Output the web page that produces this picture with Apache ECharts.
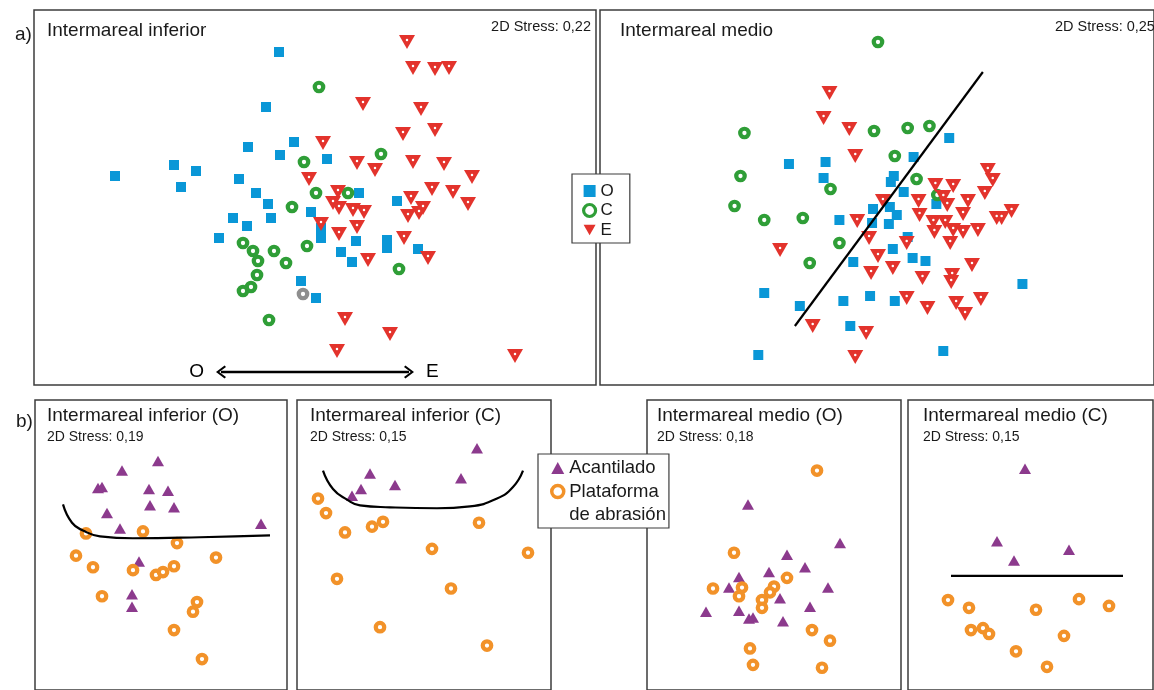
<!DOCTYPE html>
<html>
<head>
<meta charset="utf-8">
<title>NMDS intermareal</title>
<script src="https://cdn.jsdelivr.net/npm/echarts@6/dist/echarts.min.js"></script>
<style>
html, body {margin: 0; padding: 0; background: #fff;}
#main {width: 1154px; height: 690px;}
</style>
</head>
<body>
<div id="main"></div>
<script>
// a) Intermareal inferior (O / C / E)
var infO = [[245,42],[232,97],[260,132],[214,137],[246,145],[293,149],[140,155],[162,161],[81,166],[147,177],[205,169],[222,183],[325,183],[363,191],[234,194],[199,208],[237,208],[213,216],[277,202],[287,218],[287,228],[185,228],[322,231],[307,242],[318,252],[353,230],[353,238],[384,239],[267,271],[282,288]];
var infC = [[285,77],[270,152],[347,144],[282,183],[314,183],[258,197],[209,233],[219,241],[240,241],[273,236],[224,251],[252,253],[223,265],[217,277],[209,281],[235,310],[365,259]];
var infGris = [[269,284]];
var infE = [[373,32],[379,58],[401,59],[415,58],[329,94],[387,99],[369,124],[401,120],[289,133],[323,153],[341,160],[379,152],[410,154],[438,167],[275,169],[398,179],[419,182],[304,182],[377,188],[434,194],[299,193],[305,198],[319,200],[330,202],[389,198],[385,203],[374,206],[287,214],[323,217],[305,224],[370,228],[334,250],[394,248],[311,309],[356,324],[303,341],[481,346]];
var infFlecha = [[281,362],[187,362],[375,362]];

// a) Intermareal medio
var medO = [[191,154],[228,152],[226,168],[353,128],[317,147],[297,166],[294,172],[307,182],[242,210],[276,199],[275,213],[293,197],[292,214],[300,205],[340,194],[311,227],[296,239],[256,252],[316,248],[329,251],[166,283],[202,296],[246,291],[273,286],[298,291],[253,316],[160,345],[347,341],[427,274]];
var medC = [[281,32],[277,121],[311,118],[333,116],[146,123],[298,146],[142,166],[233,179],[320,169],[341,185],[136,196],[166,210],[205,208],[242,233],[212,253]];
var medE = [[232,83],[226,108],[252,119],[258,146],[260,211],[286,191],[182,240],[272,228],[281,246],[274,263],[296,258],[215,316],[269,323],[258,347],[339,175],[357,176],[392,160],[397,170],[389,183],[372,191],[347,187],[322,191],[351,195],[323,205],[367,204],[401,208],[406,208],[416,201],[337,212],[349,212],[357,220],[338,222],[367,222],[382,220],[354,233],[310,233],[376,255],[326,268],[356,265],[355,272],[310,288],[331,298],[360,293],[385,289],[369,304]];
var medLinea = [[197,316],[387,62]];
var medEtiquetas = [['C',360,61],['E',405,89]];

// b) Acantilado / Plataforma de abrasión
var bInfO_ac = [[123,63],[87,73],[63,91],[67,90],[114,92],[133,94],[115,109],[139,111],[72,117],[85,133],[226,128],[104,167],[97,201],[97,214]];
var bInfO_pl = [[51,138],[108,136],[142,148],[41,161],[58,173],[98,176],[121,181],[128,178],[139,172],[181,163],[67,203],[162,209],[158,219],[139,238],[167,268]];
var bInfO_curva = [[28,108],[37,127],[48,135],[65,141],[98,143],[165,142],[235,140]];

var bInfC_ac = [[180,50],[73,76],[64,92],[55,99],[98,88],[164,81]];
var bInfC_pl = [[21,102],[29,117],[48,137],[75,131],[86,126],[182,127],[135,154],[231,158],[40,185],[154,195],[83,235],[190,254]];
var bInfC_curva = [[26,73],[36,92],[50,103],[63,109],[93,111],[140,112],[173,110],[200,102],[216,90],[226,73]];

var bMedO_ac = [[101,108],[193,148],[140,160],[122,178],[158,173],[92,183],[82,194],[181,194],[133,205],[163,214],[59,219],[92,218],[102,226],[106,225],[136,229]];
var bMedO_pl = [[170,73],[87,158],[140,184],[127,193],[123,199],[115,207],[115,215],[95,194],[92,203],[66,195],[165,238],[183,249],[103,257],[106,274],[175,277]];

var bMedC_ac = [[117,71],[89,146],[161,155],[106,166]];
var bMedC_pl = [[40,207],[61,215],[128,217],[171,206],[201,213],[63,238],[75,236],[81,242],[156,244],[108,260],[139,276]];
var bMedC_linea = [[43,182],[215,182]];

var titulos = ['Intermareal inferior', 'Intermareal medio', 'Intermareal inferior (O)', 'Intermareal inferior (C)', 'Intermareal medio (O)', 'Intermareal medio (C)'];
var stress = ['2D Stress: 0,22', '2D Stress: 0,25', '2D Stress: 0,19', '2D Stress: 0,15', '2D Stress: 0,18', '2D Stress: 0,15'];

var FONT = '"Liberation Sans", Arial, sans-serif';
var AZUL = '#0a97d7', VERDE = '#2f9e37', ROJO = '#e3332c', MORADO = '#8c3a8d', NARANJA = '#f29229', GRIS = '#8e8e8e';
var TRI_ABAJO = 'path://M0,0L14,0L7,12Z';
var PUNTA = 'path://M6,0L12,7.4L10.6,8.6L6,2.8L1.4,8.6L0,7.4Z';

// paneles: left, top, width, height
var paneles = [
    [34, 10, 562, 375],
    [600, 10, 560, 375],
    [35, 400, 252, 300],
    [297, 400, 254, 300],
    [647, 400, 254, 300],
    [908, 400, 245, 300]
];

var myChart = echarts.init(document.getElementById('main'));

var grids = [], xAxes = [], yAxes = [];
paneles.forEach(function (p) {
    grids.push({
        left: p[0], top: p[1], width: p[2], height: p[3], show: true,
        backgroundColor: '#fff', borderColor: '#3c3c3c', borderWidth: 1.5
    });
    xAxes.push({type: 'value', gridIndex: grids.length - 1, min: 0, max: p[2], show: false});
    yAxes.push({type: 'value', gridIndex: grids.length - 1, min: 0, max: p[3], inverse: true, show: false});
});

function cuadrado(name, data, g) {
    return {type: 'scatter', name: name, data: data, xAxisIndex: g, yAxisIndex: g,
        symbol: 'rect', symbolSize: 10, itemStyle: {color: AZUL, opacity: 1}};
}
function anillo(name, data, g, color) {
    return {type: 'scatter', name: name, data: data, xAxisIndex: g, yAxisIndex: g,
        symbol: 'circle', symbolSize: 8.5, itemStyle: {color: '#fff', borderColor: color, borderWidth: 4.2, opacity: 1}};
}
function trianguloE(name, data, g) {
    return {type: 'scatter', name: name, data: data, xAxisIndex: g, yAxisIndex: g,
        symbol: TRI_ABAJO, symbolSize: [16, 14], symbolKeepAspect: false, itemStyle: {color: ROJO, opacity: 1}};
}
function puntoBlanco(data, g) {
    return {type: 'scatter', data: data, xAxisIndex: g, yAxisIndex: g,
        symbol: 'circle', symbolSize: 2.5, symbolOffset: [0, -2], itemStyle: {color: '#fff', opacity: 1}};
}
function acantilado(data, g) {
    return {type: 'scatter', name: 'Acantilado', data: data, xAxisIndex: g, yAxisIndex: g,
        symbol: 'triangle', symbolSize: [12, 10.5], itemStyle: {color: MORADO, opacity: 1}};
}
function linea(data, g, smooth) {
    return {type: 'line', data: data, xAxisIndex: g, yAxisIndex: g, symbol: 'none',
        smooth: smooth, lineStyle: {color: '#000', width: 2.2}};
}

var seriesO = cuadrado('O', infO, 0);
seriesO.markLine = {
    silent: true,
    symbol: ['none', PUNTA],
    symbolSize: [13, 10],
    lineStyle: {color: '#000', width: 2.4, type: 'solid'},
    label: {show: true, position: 'end', formatter: '{b}', distance: 17, fontSize: 19, color: '#000', fontFamily: FONT},
    data: [
        [{name: 'O', coord: infFlecha[0]}, {name: 'O', coord: infFlecha[1]}],
        [{name: 'E', coord: infFlecha[0]}, {name: 'E', coord: infFlecha[2]}]
    ]
};

var series = [
    seriesO,
    anillo('C', infC, 0, VERDE),
    anillo('gris', infGris, 0, GRIS),
    trianguloE('E', infE, 0),
    puntoBlanco(infE, 0),

    linea(medLinea, 1, false),
    cuadrado('O', medO, 1),
    anillo('C', medC, 1, VERDE),
    trianguloE('E', medE, 1),
    puntoBlanco(medE, 1),
    {type: 'scatter', xAxisIndex: 1, yAxisIndex: 1, symbolSize: 1, itemStyle: {opacity: 0},
        data: medEtiquetas.map(function (d) { return {name: d[0], value: [d[1], d[2]]}; }),
        label: {show: true, position: 'inside', formatter: '{b}', fontSize: 19, color: '#000', fontFamily: FONT}},

    linea(bInfO_curva, 2, 0.5),
    acantilado(bInfO_ac, 2),
    anillo('Plataforma de abrasión', bInfO_pl, 2, NARANJA),

    linea(bInfC_curva, 3, 0.5),
    acantilado(bInfC_ac, 3),
    anillo('Plataforma de abrasión', bInfC_pl, 3, NARANJA),

    acantilado(bMedO_ac, 4),
    anillo('Plataforma de abrasión', bMedO_pl, 4, NARANJA),
    {type: 'scatter', name: 'de abrasión', data: [], xAxisIndex: 4, yAxisIndex: 4},

    linea(bMedC_linea, 5, false),
    acantilado(bMedC_ac, 5),
    anillo('Plataforma de abrasión', bMedC_pl, 5, NARANJA)
];
series.forEach(function (s) { s.silent = true; });

var titlePos = [[47, 21], [620, 21], [47, 406], [310, 406], [657, 406], [923, 406]];
var stressPos = [[null, 19], [1055, 19], [47, 430], [310, 430], [657, 430], [923, 430]];
var titles = [
    {text: 'a)', left: 10, top: 20, textStyle: {fontSize: 19, fontWeight: 'normal', color: '#1a1a1a', fontFamily: FONT}},
    {text: 'b)', left: 11, top: 407, textStyle: {fontSize: 19, fontWeight: 'normal', color: '#1a1a1a', fontFamily: FONT}}
];
titulos.forEach(function (t, i) {
    titles.push({text: t, left: titlePos[i][0], top: titlePos[i][1], padding: 0,
        textStyle: {fontSize: 19, fontWeight: 'normal', color: '#1a1a1a', fontFamily: FONT}});
    var st = {text: stress[i], top: stressPos[i][1], padding: 0,
        textStyle: {fontSize: i < 2 ? 14.5 : 14, fontWeight: 'normal', color: '#1a1a1a', fontFamily: FONT}};
    if (stressPos[i][0] === null) { st.right = 1154 - 591; } else { st.left = stressPos[i][0]; }
    titles.push(st);
});

var option = {
    animation: false,
    backgroundColor: '#fff',
    title: titles,
    grid: grids,
    xAxis: xAxes,
    yAxis: yAxes,
    legend: [
        {
            left: 572, top: 174, orient: 'vertical', selectedMode: false,
            backgroundColor: '#fff', borderColor: '#3c3c3c', borderWidth: 1.2,
            padding: [8.5, 16, 4.5, 10], itemWidth: 12, itemHeight: 12, itemGap: 2.5,
            textStyle: {fontSize: 17, lineHeight: 17, color: '#1a1a1a', fontFamily: FONT},
            data: [{name: 'O'}, {name: 'C', itemStyle: {borderWidth: 3.2}}, {name: 'E'}]
        },
        {
            left: 538, top: 454, orient: 'vertical', selectedMode: false,
            backgroundColor: '#fff', borderColor: '#3c3c3c', borderWidth: 1.2,
            padding: [4, 3, 3, 12], itemWidth: 13, itemHeight: 12, itemGap: 3.5,
            textStyle: {fontSize: 18.5, lineHeight: 20, color: '#1a1a1a', fontFamily: FONT},
            formatter: function (name) { return name === 'Plataforma de abrasión' ? 'Plataforma' : name; },
            data: [{name: 'Acantilado'}, {name: 'Plataforma de abrasión', itemStyle: {borderWidth: 3.5}}, {name: 'de abrasión', icon: 'none'}]
        }
    ],
    series: series
};
myChart.setOption(option);

window.addEventListener('resize', function () {
    myChart.resize();
});
</script>
</body>
</html>
